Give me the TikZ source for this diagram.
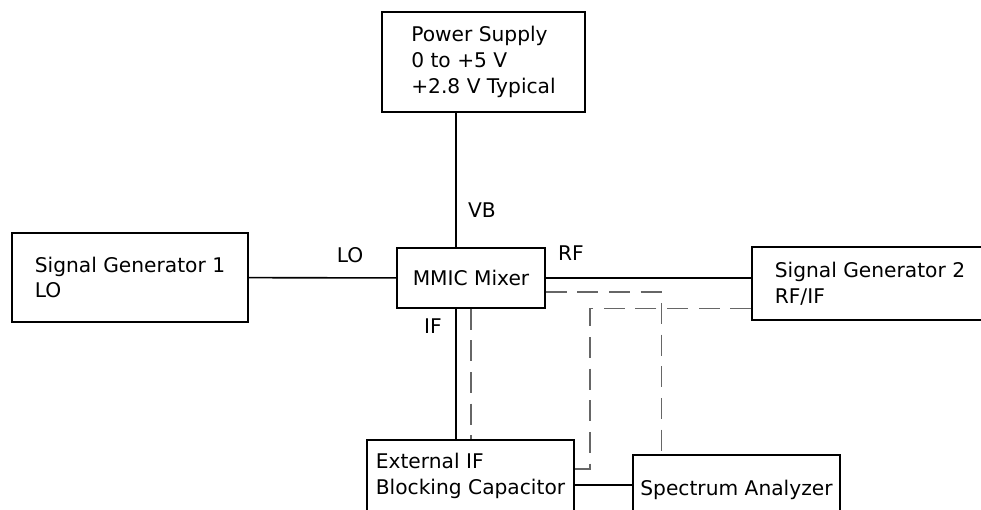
\documentclass[tikz,border=0pt]{standalone}
\usepackage{fontspec}
\setmainfont{DejaVu Sans}
\usetikzlibrary{calc,positioning}

\begin{document}
\begin{tikzpicture}[
x=0.02cm, y=-0.02cm,
every node/.style={font=\fontsize{11.5}{14.7}\selectfont},
block/.style={draw, line width=0.9pt, align=left, inner sep=0pt},
wire/.style={draw, line width=0.9pt},
probe/.style={draw, black!60, line width=0.8pt, dash pattern=on 12pt off 6pt}
]
\useasboundingbox (0,0) rectangle (981,510);

\node[block, minimum width=4.06cm, minimum height=2cm] (ps) at (483.5,62) {Power Supply\\0 to +5 V\\+2.8 V Typical};
\node[block, minimum width=4.72cm, minimum height=1.78cm] (sg1) at (130,277.5) {Signal Generator 1\\LO};
\node[block, minimum width=2.96cm, minimum height=1.2cm] (mix) at (471,278) {MMIC Mixer};
\node[block, minimum width=4.72cm, minimum height=1.46cm] (sg2) at (870,283.5) {Signal Generator 2\\RF/IF};
\node[block, minimum width=4.14cm, minimum height=1.44cm] (ext) at (470.5,476) {External IF\\Blocking Capacitor};
\node[block, minimum width=4.14cm, minimum height=1.4cm] (sa) at (736.5,490) {Spectrum Analyzer};

\node (vbl) at (482,210) {VB};
\node (lol) at (350,255) {LO};
\node (rfl) at (571,253) {RF};
\node (ifl) at (433,326) {IF};

\coordinate (vbm) at ($(mix.north west)!0.4!(mix.north east)$);
\coordinate (cb) at (590,469);

\path[wire] (vbm) -- (vbm |- ps.south);
\path[wire] (sg1) -- (mix);
\path[wire] (mix.east) -- (mix.east -| sg2.west);
\path[wire] (vbm |- mix.south) -- (vbm |- ext.north);
\path[wire] ($(ext.east)+(0,9)$) coordinate (e1) -- (e1 -| sa.west);

\path[probe] (mix.south) -- (mix.south |- ext.north);
\path[probe] ($(mix.east)+(0,14)$) -| ($(sa.north west)+(29,0)$);
\path[probe] ($(sg2.west)+(0,25)$) -| (cb) -- (cb -| ext.east);

\end{tikzpicture}
\end{document}
